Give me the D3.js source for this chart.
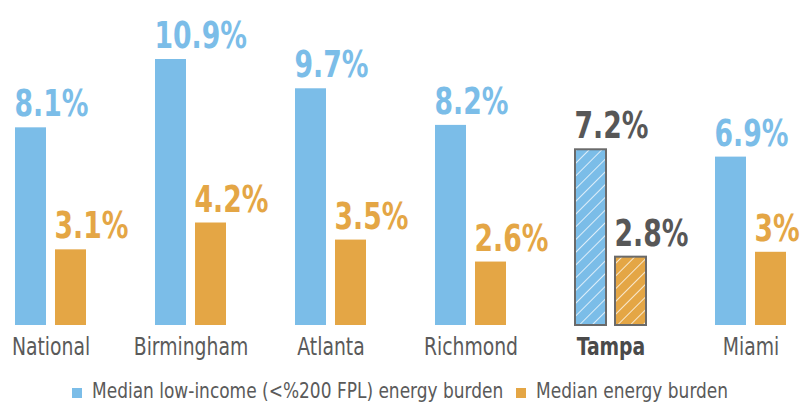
<!DOCTYPE html>
<html><head><meta charset="utf-8">
<script src="https://cdn.jsdelivr.net/npm/d3@7"></script>
<style>
body{margin:0;background:#fff;}
svg{display:block;}
</style></head>
<body>
<svg id="chart" width="803" height="402"></svg>
<script>
const categories = ["National","Birmingham","Atlanta","Richmond","Tampa","Miami"];
const lowIncome = [8.1,10.9,9.7,8.2,7.2,6.9];
const lowIncomeLabels = ["8.1%","10.9%","9.7%","8.2%","7.2%","6.9%"];
const median = [3.1,4.2,3.5,2.6,2.8,3.0];
const medianLabels = ["3.1%","4.2%","3.5%","2.6%","2.8%","3%"];
const seriesNames = ["Median low-income (<%200 FPL) energy burden","Median energy burden"];
const highlight = "Tampa";

const colors = ["#7bbde8","#e4a645"];
const font = "'DejaVu Sans Condensed','DejaVu Sans',sans-serif";

const svg = d3.select("#chart");
const defs = svg.append("defs");
colors.forEach((c,i)=>{
  const p = defs.append("pattern").attr("id","hatch"+i).attr("patternUnits","userSpaceOnUse")
    .attr("width",9).attr("height",9).attr("patternTransform","rotate(45)");
  p.append("rect").attr("width",9).attr("height",9).attr("fill",c);
  p.append("line").attr("x1",0).attr("y1",0).attr("x2",0).attr("y2",9)
    .attr("stroke","#ffffff").attr("stroke-opacity",0.75).attr("stroke-width",2);
});

const x = d3.scalePoint().domain(categories).range([50.5,750.5]);
const xs = d3.scaleBand().domain([0,1]).range([-35.5,35.5]).paddingInner(0.225).paddingOuter(0);
const y = d3.scaleLinear().domain([0,10.9]).range([325,59]);

const data = [];
categories.forEach((c,i)=>{
  data.push({cat:c,s:0,v:lowIncome[i],label:lowIncomeLabels[i]});
  data.push({cat:c,s:1,v:median[i],label:medianLabels[i]});
});

const g = svg.append("g");
g.selectAll("rect.bar").data(data).join("rect").attr("class","bar")
  .attr("x",d=>x(d.cat)+xs(d.s))
  .attr("width",xs.bandwidth())
  .attr("y",d=>y(d.v))
  .attr("height",d=>y(0)-y(d.v))
  .attr("fill",d=>d.cat===highlight?`url(#hatch${d.s})`:colors[d.s])
  .attr("stroke",d=>d.cat===highlight?"#6a6a6a":"none")
  .attr("stroke-width",2);

g.selectAll("text.val").data(data).join("text").attr("class","val")
  .attr("transform",d=>`translate(${x(d.cat)+xs(d.s)-0.5},${y(d.v)-11}) scale(0.78,1)`)
  .attr("font-family",font)
  .attr("font-weight","bold")
  .attr("font-size",38)
  .attr("fill",d=>d.cat===highlight?"#575757":colors[d.s])
  .text(d=>d.label);

// category axis
const axis = d3.axisBottom(x).tickSize(0).tickPadding(0);
const ax = svg.append("g").attr("transform","translate(0,355)").call(axis);
ax.select(".domain").remove();
ax.selectAll("text")
  .attr("y",0).attr("dy","0")
  .attr("transform","scale(0.87,1)")
  .attr("font-family",font)
  .attr("font-size",24)
  .attr("fill",d=>d===highlight?"#4a4a4a":"#5a5a5a")
  .attr("font-weight",d=>d===highlight?"bold":"normal");

// legend
const legendX = [72,516];
const lg = svg.append("g").selectAll("g").data(seriesNames).join("g")
  .attr("transform",(d,i)=>`translate(${legendX[i]},388)`);
lg.append("rect").attr("width",10).attr("height",10).attr("fill",(d,i)=>colors[i]);
lg.append("text").attr("transform","translate(20,10) scale(0.9,1)")
  .attr("font-family",font).attr("font-size",21).attr("fill","#5a5a5a")
  .text(d=>d);
</script>
</body></html>
